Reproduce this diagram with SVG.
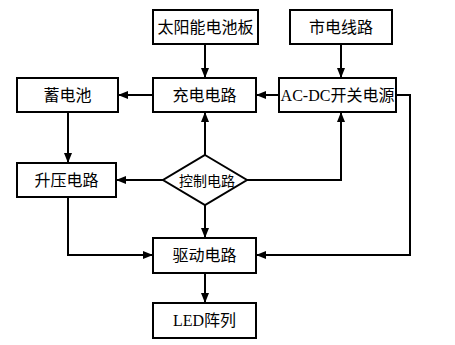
<svg xmlns="http://www.w3.org/2000/svg" width="455" height="345" viewBox="0 0 455 345">
<style>
.box{fill:#fff;stroke:#000;stroke-width:2}
.t{font-family:"Liberation Serif","Noto Sans CJK SC",serif;font-size:16px;text-anchor:middle;dominant-baseline:central;fill:#000}
.s{font-size:14px}
.c{fill:none;stroke:#000;stroke-width:2}
</style>
<defs>
<marker id="a" markerWidth="10" markerHeight="8" refX="10" refY="4" orient="auto" markerUnits="userSpaceOnUse">
<path d="M0,0 L10,4 L0,8 Z" fill="#000"/>
</marker>
</defs>
<rect width="455" height="345" fill="#fff"/>
<g id="connectors">
<path class="c" d="M205,44 V78" marker-end="url(#a)"/>
<path class="c" d="M341,44 V78" marker-end="url(#a)"/>
<path class="c" d="M153,95 H118" marker-end="url(#a)"/>
<path class="c" d="M279,95 H256" marker-end="url(#a)"/>
<path class="c" d="M68,112 V163" marker-end="url(#a)"/>
<path class="c" d="M205,155 V112" marker-end="url(#a)"/>
<path class="c" d="M247,180 H341 V112" marker-end="url(#a)"/>
<path class="c" d="M163,180 H116" marker-end="url(#a)"/>
<path class="c" d="M205,205 V238" marker-end="url(#a)"/>
<path class="c" d="M68,197 V255 H153" marker-end="url(#a)"/>
<path class="c" d="M396,95 H410 V255 H256" marker-end="url(#a)"/>
<path class="c" d="M205,273 V303" marker-end="url(#a)"/>
</g>
<g id="solar"><rect class="box" x="153" y="10" width="105" height="34"/><text class="t" x="205.5" y="27">太阳能电池板</text></g>
<g id="mains"><rect class="box" x="290" y="10" width="102" height="34"/><text class="t" x="341" y="27">市电线路</text></g>
<g id="battery"><rect class="box" x="17" y="78" width="101" height="34"/><text class="t" x="67.5" y="95">蓄电池</text></g>
<g id="charge"><rect class="box" x="153" y="78" width="103" height="34"/><text class="t" x="204.5" y="95">充电电路</text></g>
<g id="acdc"><rect class="box" x="279" y="78" width="117" height="34"/><text class="t" x="337.5" y="95">AC-DC开关电源</text></g>
<g id="boost"><rect class="box" x="17" y="163" width="99" height="34"/><text class="t" x="66.5" y="180">升压电路</text></g>
<g id="control"><polygon class="box" points="205,155 247,180 205,205 163,180"/><text class="t s" x="207" y="181">控制电路</text></g>
<g id="driver"><rect class="box" x="153" y="238" width="103" height="35"/><text class="t" x="204.5" y="255.5">驱动电路</text></g>
<g id="led"><rect class="box" x="153" y="303" width="103" height="35"/><text class="t" x="204.5" y="320.5">LED阵列</text></g>
</svg>
